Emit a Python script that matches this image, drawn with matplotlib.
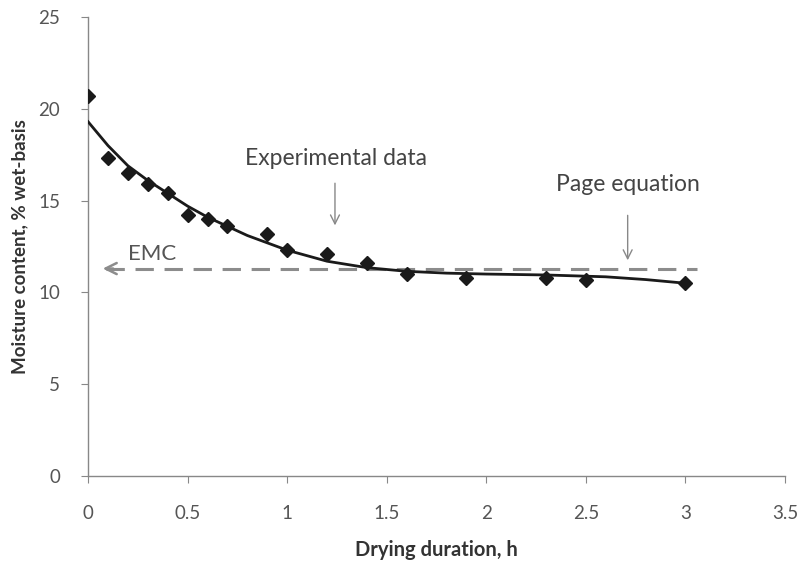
import matplotlib.pyplot as plt

plt.rcParams['font.family'] = ['Lato', 'DejaVu Sans']

# experimental data points
t_exp = [0, 0.1, 0.2, 0.3, 0.4, 0.5, 0.6, 0.7, 0.9, 1.0, 1.2, 1.4, 1.6, 1.9, 2.3, 2.5, 3.0]
mc_exp = [20.7, 17.3, 16.5, 15.9, 15.4, 14.2, 14.0, 13.6, 13.2, 12.3, 12.1, 11.6,
          11.0, 10.8, 10.8, 10.7, 10.5]

# Page equation curve
t_page = [0, 0.1, 0.2, 0.3, 0.4, 0.5, 0.6, 0.7, 0.8, 0.9, 1.0, 1.2, 1.4, 1.6, 1.8,
          2.0, 2.3, 2.6, 2.8, 3.0]
mc_page = [19.3, 18.0, 16.9, 16.1, 15.4, 14.7, 14.1, 13.6, 13.1, 12.7, 12.3, 11.7,
           11.35, 11.15, 11.05, 11.0, 10.95, 10.85, 10.7, 10.5]

emc = 11.3
emc_span = [0.06, 3.06]

xticks = [0, 0.5, 1, 1.5, 2, 2.5, 3, 3.5]
xtick_labels = ['0', '0.5', '1', '1.5', '2', '2.5', '3', '3.5']
yticks = [0, 5, 10, 15, 20, 25]

fig = plt.figure(figsize=(8.08, 5.70), dpi=100)
ax = fig.add_axes([0.109, 0.165, 0.8625, 0.805])

# EMC dashed line with open arrow head
ax.plot([emc_span[0] + 0.03, emc_span[1]], [emc, emc], color='#8c8c8c',
        lw=2.2, dashes=(6, 3.5), zorder=2)
ax.annotate('', xy=(emc_span[0], emc), xytext=(emc_span[0] + 0.08, emc),
            arrowprops=dict(arrowstyle='->', color='#8c8c8c', lw=1.8,
                            mutation_scale=20), zorder=2)
ax.text(0.2, 12.1, 'EMC', fontsize=16, color='#555555', va='center')

# Page equation and experimental data
ax.plot(t_page, mc_page, color='#1a1a1a', lw=2.0, zorder=3)
ax.plot(t_exp, mc_exp, linestyle='none', marker='D', markersize=7.5,
        color='#1a1a1a', zorder=4)

# annotations
ax.text(0.79, 17.3, 'Experimental data', fontsize=16.5, color='#444444',
        va='center')
ax.annotate('', xy=(1.24, 13.5), xytext=(1.24, 16.1),
            arrowprops=dict(arrowstyle='->', color='#888888', lw=1.0,
                            mutation_scale=16))
ax.text(2.35, 15.9, 'Page equation', fontsize=16.5, color='#444444',
        va='center')
ax.annotate('', xy=(2.71, 11.6), xytext=(2.71, 14.35),
            arrowprops=dict(arrowstyle='->', color='#888888', lw=1.0,
                            mutation_scale=16))

ax.set_xlim(0, 3.5)
ax.set_ylim(0, 25)
ax.set_xticks(xticks)
ax.set_xticklabels(xtick_labels)
ax.set_yticks(yticks)
ax.spines['top'].set_visible(False)
ax.spines['right'].set_visible(False)
for s in ['left', 'bottom']:
    ax.spines[s].set_color('#888888')
    ax.spines[s].set_linewidth(1.0)
ax.tick_params(axis='both', direction='out', length=5, color='#888888',
               labelcolor='#555555', labelsize=13.5)
ax.tick_params(axis='x', pad=16)
ax.tick_params(axis='y', pad=15)

ax.set_xlabel('Drying duration, h', fontsize=14.5, fontweight='bold',
              color='#333333', labelpad=13)
ax.set_ylabel('Moisture content, % wet-basis', fontsize=13.5, fontweight='bold',
              color='#333333', labelpad=7)

fig.savefig('out.png', dpi=100)
